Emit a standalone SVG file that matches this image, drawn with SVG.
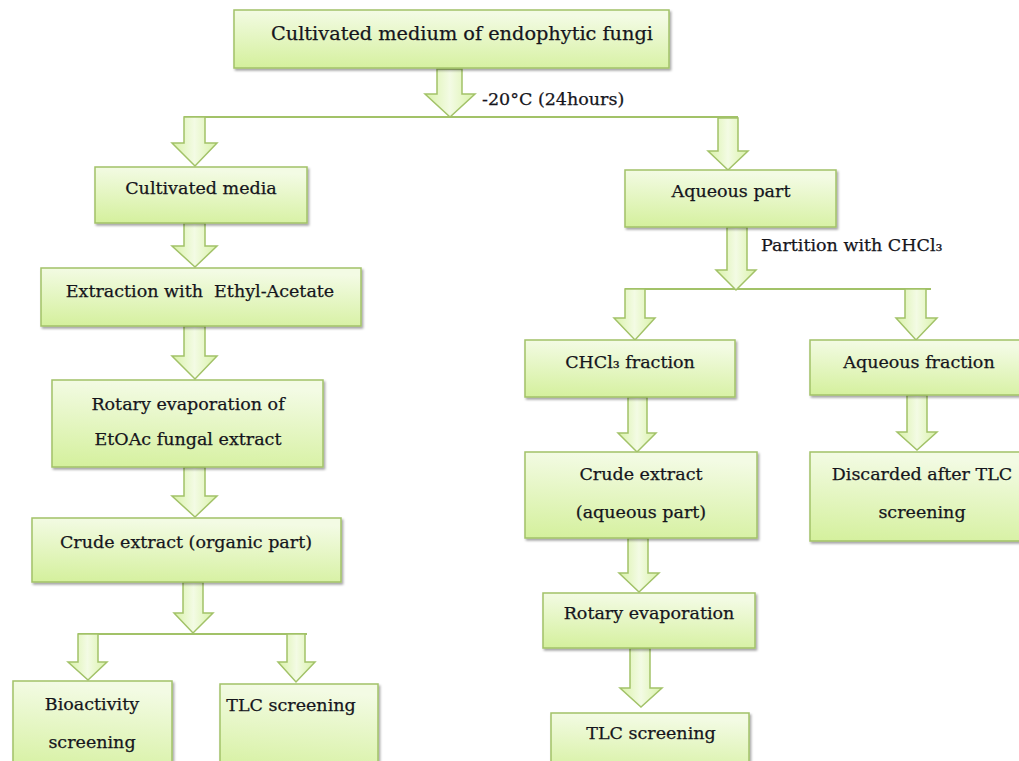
<svg xmlns="http://www.w3.org/2000/svg" width="1019" height="761" viewBox="0 0 1019 761">
<defs>
<linearGradient id="g" x1="0" y1="1" x2="0.15" y2="0">
<stop offset="0" stop-color="#d4f09c"/>
<stop offset="1" stop-color="#f3fbe4"/>
</linearGradient>
<linearGradient id="ga" x1="0" y1="0" x2="1" y2="0">
<stop offset="0" stop-color="#d9f2a8"/>
<stop offset="0.5" stop-color="#f3fbe4"/>
<stop offset="1" stop-color="#d9f2a8"/>
</linearGradient>
<filter id="sh" x="-10%" y="-10%" width="130%" height="140%">
<feDropShadow dx="1.5" dy="2" stdDeviation="1.2" flood-color="#000" flood-opacity="0.35"/>
</filter>
</defs>
<style>
.box{fill:url(#g);stroke:#a2c268;stroke-width:1.5;filter:url(#sh)}
.arr{fill:url(#ga);stroke:#a2c268;stroke-width:1.5;stroke-linejoin:miter}
.ln{stroke:#a2c268;stroke-width:1.8;fill:none}
text{font-family:"DejaVu Serif","Liberation Serif",serif;font-size:17.5px;fill:#15151c;stroke:#15151c;stroke-width:0.25}
.c{text-anchor:middle}
.big{font-size:19.3px}
</style>
<rect width="1019" height="761" fill="#fff"/>

<g id="connectors">
<line class="ln" x1="184" y1="117" x2="738" y2="117"/>
<line class="ln" x1="625" y1="289" x2="931" y2="289"/>
<line class="ln" x1="78" y1="634" x2="307" y2="634"/>
<path class="arr" d="M437,69 H462 V94 H475 L450,117 L425,94 H437 Z"/>
<path class="arr" d="M184,117 H205 V143 H217 L195,166 L172,143 H184 Z"/>
<path class="arr" d="M718,118 H738 V151 H748 L728,170 L708,151 H718 Z"/>
<path class="arr" d="M184,223 H205 V246 H217 L195,267 L172,246 H184 Z"/>
<path class="arr" d="M184,326 H205 V356 H217 L195,379 L172,356 H184 Z"/>
<path class="arr" d="M184,467 H205 V496 H217 L195,517 L172,496 H184 Z"/>
<path class="arr" d="M183,582 H203 V613 H213 L193,633 L174,613 H183 Z"/>
<path class="arr" d="M78,634 H98 V662 H107 L88,680 L68,662 H78 Z"/>
<path class="arr" d="M287,634 H305 V662 H315 L296,682 L278,662 H287 Z"/>
<path class="arr" d="M727,227 H747 V270 H756 L736,290 L716,270 H727 Z"/>
<path class="arr" d="M625,289 H645 V318 H655 L635,340 L614,318 H625 Z"/>
<path class="arr" d="M905,289 H926 V318 H937 L916,340 L896,318 H905 Z"/>
<path class="arr" d="M628,397 H647 V433 H656 L637,452 L618,433 H628 Z"/>
<path class="arr" d="M907,395 H927 V432 H937 L917,450 L897,432 H907 Z"/>
<path class="arr" d="M628,538 H648 V573 H659 L639,592 L619,573 H628 Z"/>
<path class="arr" d="M630,648 H650 V688 H662 L641,707 L620,688 H630 Z"/>
<text x="482" y="105">-20°C (24hours)</text>
<text x="761" y="251">Partition with CHCl₃</text>
</g>

<g id="n-top"><rect class="box" x="234" y="10" width="435" height="58"/><text class="c big" x="462" y="40">Cultivated medium of endophytic fungi</text></g>
<g id="n-media"><rect class="box" x="95" y="167" width="212" height="56"/><text class="c" x="201" y="194">Cultivated media</text></g>
<g id="n-extraction"><rect class="box" x="41" y="268" width="320" height="58"/><text class="c" x="200" y="297">Extraction with&#160; Ethyl-Acetate</text></g>
<g id="n-rotary1"><rect class="box" x="52" y="380" width="271" height="87"/><text class="c" x="188" y="410">Rotary evaporation of</text><text class="c" x="188" y="445">EtOAc fungal extract</text></g>
<g id="n-crude1"><rect class="box" x="32" y="518" width="309" height="64"/><text class="c" x="186" y="548">Crude extract (organic part)</text></g>
<g id="n-bio"><rect class="box" x="13" y="681" width="159" height="95"/><text class="c" x="92" y="710">Bioactivity</text><text class="c" x="92" y="748">screening</text></g>
<g id="n-tlc1"><rect class="box" x="220" y="684" width="158" height="92"/><text class="c" x="291" y="711">TLC screening</text></g>
<g id="n-aqpart"><rect class="box" x="625" y="170" width="211" height="57"/><text class="c" x="731" y="197">Aqueous part</text></g>
<g id="n-chcl3"><rect class="box" x="525" y="340" width="210" height="57"/><text class="c" x="630" y="368">CHCl₃ fraction</text></g>
<g id="n-aqfrac"><rect class="box" x="810" y="340" width="215" height="55"/><text class="c" x="919" y="368">Aqueous fraction</text></g>
<g id="n-crude2"><rect class="box" x="525" y="452" width="232" height="86"/><text class="c" x="641" y="480">Crude extract</text><text class="c" x="641" y="518">(aqueous part)</text></g>
<g id="n-discard"><rect class="box" x="810" y="452" width="215" height="89"/><text class="c" x="922" y="480">Discarded after TLC</text><text class="c" x="922" y="518">screening</text></g>
<g id="n-rotary2"><rect class="box" x="543" y="593" width="212" height="55"/><text class="c" x="649" y="619">Rotary evaporation</text></g>
<g id="n-tlc2"><rect class="box" x="551" y="713" width="198" height="63"/><text class="c" x="651" y="739">TLC screening</text></g>
</svg>
